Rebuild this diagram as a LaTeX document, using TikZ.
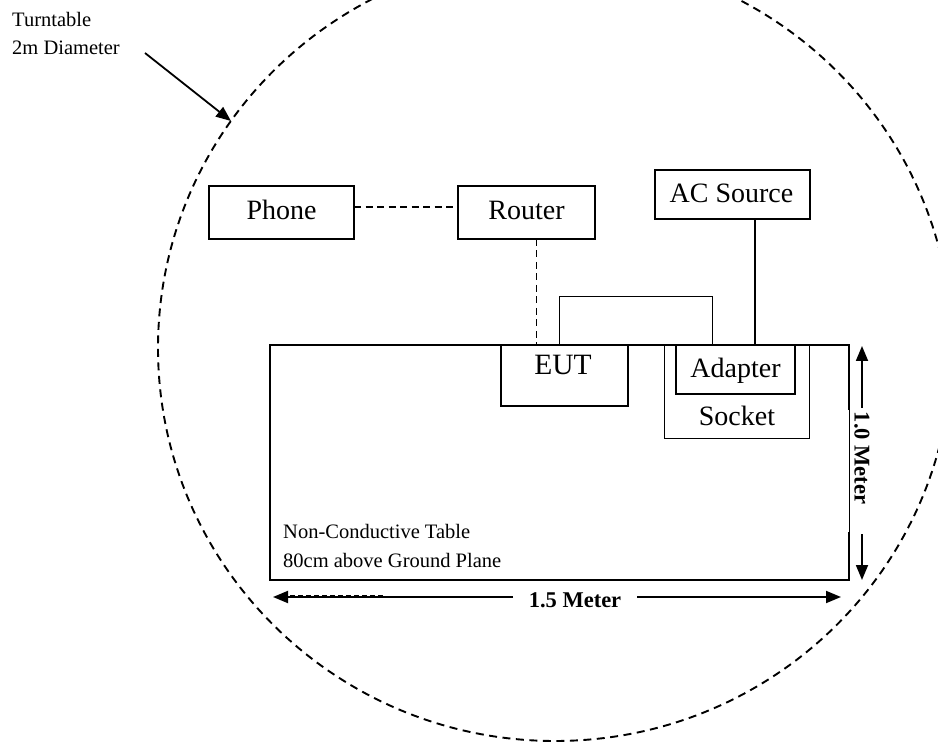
\documentclass[tikz,border=0pt]{standalone}
\usepackage{fontspec}
\setmainfont{Liberation Serif}
\usetikzlibrary{arrows.meta}
\begin{document}
\begin{tikzpicture}[x=1pt,y=-1pt,
  box/.style={draw, line width=1.9pt, inner sep=0pt, outer sep=0pt, anchor=north west},
  thinbox/.style={draw, line width=0.8pt, inner sep=0pt, outer sep=0pt, anchor=north west},
  lbl/.style={inner sep=0pt, anchor=base, font=\fontsize{28}{30}\selectfont},
  small/.style={inner sep=0pt, anchor=base west, font=\fontsize{20.5}{24}\selectfont},
  dimlbl/.style={inner sep=0pt, font=\bfseries\fontsize{22.5}{26}\selectfont},
  dashline/.style={line width=1.8pt, dash pattern=on 7pt off 4.5pt},
  wire/.style={line width=0.8pt},
  acline/.style={line width=1.8pt},
  tipline/.style={line width=1.8pt, -{Triangle[length=15pt,width=12pt]}},
]
\useasboundingbox (0,0) rectangle (938,743);
\fill[white] (0,0) rectangle (938,743);

% turntable
\begin{scope}
\clip (0,0) rectangle (938,743);
\draw[line width=1.9pt, dash pattern=on 8pt off 5.5pt] (555,348) ellipse [x radius=397pt, y radius=393pt];
\end{scope}

\node[small] (tt1) at (12,27) {Turntable};
\node[small] (tt2) at (12,55) {2m Diameter};
\coordinate (ttfrom) at (145,53);
\coordinate (ttto) at (231,121);
\draw[tipline] (ttfrom) -- (ttto);

% table
\node[box, line width=2.6pt, minimum width=579pt, minimum height=235pt] (table) at (270,345) {};
\coordinate (re1) at (849,410);
\coordinate (re2) at (849,532);
\draw[white, line width=3pt] (re1) -- (re2);
\draw[line width=0.9pt] (re1) -- (re2);

\node[small] (t1) at (283,538) {Non-Conductive Table};
\node[small] (t2) at (283,567) {80cm above Ground Plane};

% boxes
\node[box, minimum width=145pt, minimum height=53pt] (phone) at (209,186) {};
\node[box, minimum width=137pt, minimum height=53pt] (router) at (458,186) {};
\node[box, minimum width=155pt, minimum height=49pt] (acsrc) at (655,170) {};
\node[thinbox, minimum width=145pt, minimum height=93pt] (socket) at (664,345) {};
\node[box, minimum width=119pt, minimum height=49pt] (adapter) at (676,345) {};
\node[box, minimum width=127pt, minimum height=61pt] (eut) at (501,345) {};

\node[lbl] (phonelbl) at (281.5,220) {Phone};
\node[lbl] (routerlbl) at (526.5,220) {Router};
\node[lbl] (aclbl) at (731.5,203) {AC Source};
\node[lbl, font=\fontsize{29.5}{32}\selectfont] (eutlbl) at (563,375) {EUT};
\node[lbl] (adlbl) at (735.5,378) {Adapter};
\node[lbl] (socklbl) at (737,426) {Socket};

% connectors
\draw[dashline] ([yshift=5.5pt]phone.east) -- ([yshift=5.5pt]router.west);
\draw[dashline] ([xshift=10pt]router.south) -- ([xshift=10pt]router.south |- eut.north);
\coordinate (wtop) at (712,296);
\draw[wire] ([xshift=-5.5pt]eut.north) |- (wtop) -- (wtop |- adapter.north);
\draw[acline] ([xshift=22.5pt]acsrc.south) -- ([xshift=22.5pt]acsrc.south |- table.north);

% vertical dimension
\node[dimlbl, rotate=-90] (vlbl) at (862,458) {1.0 Meter};
\coordinate (v1) at (862,408);
\coordinate (vt) at (862,346);
\coordinate (v2) at (862,534);
\coordinate (vb) at (862,580);
\draw[tipline] (v1) -- (vt);
\draw[tipline] (v2) -- (vb);

% horizontal dimension
\node[dimlbl] (hlbl) at (575,600) {1.5 Meter};
\coordinate (h1) at (513,597);
\coordinate (hl) at (273,597);
\coordinate (h2) at (637,597);
\coordinate (hr) at (841,597);
\draw[tipline] (h1) -- (hl);
\draw[tipline] (h2) -- (hr);
\coordinate (d1) at (290,595.5);
\coordinate (d2) at (385,595.5);
\draw[line width=1.8pt, dash pattern=on 5pt off 3pt] (d1) -- (d2);
\end{tikzpicture}
\end{document}
